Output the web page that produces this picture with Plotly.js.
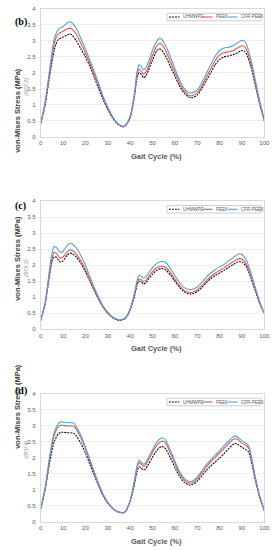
<!DOCTYPE html>
<html><head><meta charset="utf-8">
<script src="https://cdn.plot.ly/plotly-3.0.1.min.js"></script>
<style>html,body{margin:0;padding:0;background:#fff}#chart{width:277px;height:550px}</style>
</head><body><div id="chart"></div>
<script>
// ---- Data ----
const seriesNames = ["UHMWPE", "PEEK", "CFR-PEEK"];
const panelLabels = ["(b)", "(c)", "(d)"];
const roiLabels = ["(ROI 2)", "(ROI 3)", "(ROI 4)"];
const xTickVals = [0,10,20,30,40,50,60,70,80,90,100];
const yTickVals = [0,0.5,1,1.5,2,2.5,3,3.5,4];

// Panel (b) - ROI 2
const gaitB = [0,2,4,6,7,8,10,12,13,14,16,18,20,22,24,26,28,30,32,34,36,37,38,40,42,43,44,45,46,47,48,50,52,53,54,56,58,60,62,64,66,67,68,70,72,74,76,78,80,82,84,86,88,90,91,92,94,96,98,100];
const uhmwpeB = [0.42,1.0,1.9,2.7,2.93,3.05,3.12,3.19,3.22,3.18,3.0,2.75,2.5,2.2,1.85,1.5,1.15,0.85,0.6,0.42,0.32,0.31,0.35,0.6,1.3,1.8,2.0,1.95,1.85,1.9,2.05,2.4,2.7,2.75,2.72,2.5,2.2,1.9,1.6,1.38,1.25,1.22,1.23,1.3,1.5,1.75,2.0,2.25,2.42,2.5,2.53,2.57,2.63,2.7,2.68,2.6,2.2,1.6,1.0,0.5];
const peekB = [0.42,1.05,2.0,2.9,3.12,3.22,3.3,3.38,3.4,3.37,3.2,2.92,2.63,2.3,1.95,1.58,1.2,0.9,0.63,0.44,0.33,0.32,0.36,0.62,1.35,1.9,2.12,2.05,1.96,2.02,2.15,2.55,2.85,2.92,2.9,2.68,2.35,2.02,1.7,1.45,1.31,1.28,1.29,1.37,1.58,1.85,2.12,2.38,2.56,2.63,2.66,2.7,2.78,2.85,2.83,2.74,2.3,1.68,1.05,0.52];
const cfrPeekB = [0.42,1.1,2.1,3.05,3.25,3.37,3.45,3.57,3.6,3.57,3.38,3.07,2.75,2.4,2.03,1.65,1.25,0.93,0.65,0.45,0.34,0.33,0.37,0.64,1.4,2.0,2.25,2.2,2.1,2.15,2.3,2.7,3.0,3.08,3.06,2.83,2.5,2.13,1.8,1.53,1.39,1.37,1.38,1.46,1.68,1.97,2.25,2.52,2.7,2.78,2.8,2.85,2.94,3.02,3.0,2.9,2.43,1.77,1.1,0.55];

// Panel (c) - ROI 3
const gaitC = [0,2,4,5,6,7,8,9,10,12,13,14,16,18,20,22,24,26,28,30,32,34,35,36,38,40,42,43,44,45,46,47,48,50,52,54,56,58,60,62,64,66,67,68,70,72,74,76,78,80,82,84,86,88,89,90,92,94,96,98,100];
const uhmwpeC = [0.28,0.8,1.7,2.1,2.26,2.25,2.15,2.1,2.14,2.33,2.38,2.37,2.25,2.05,1.8,1.5,1.2,0.92,0.68,0.5,0.37,0.3,0.28,0.28,0.35,0.6,1.05,1.35,1.5,1.48,1.42,1.45,1.55,1.72,1.85,1.9,1.85,1.7,1.5,1.32,1.18,1.11,1.1,1.11,1.18,1.3,1.45,1.58,1.68,1.76,1.84,1.93,2.02,2.1,2.12,2.1,1.95,1.6,1.2,0.8,0.5];
const peekC = [0.28,0.82,1.78,2.2,2.4,2.38,2.27,2.22,2.26,2.43,2.48,2.47,2.35,2.13,1.87,1.55,1.24,0.95,0.7,0.52,0.38,0.31,0.29,0.29,0.36,0.62,1.1,1.42,1.57,1.55,1.49,1.52,1.62,1.8,1.93,1.97,1.93,1.77,1.56,1.37,1.22,1.16,1.15,1.16,1.23,1.36,1.51,1.65,1.75,1.84,1.92,2.02,2.11,2.19,2.21,2.19,2.03,1.67,1.25,0.82,0.5];
const cfrPeekC = [0.28,0.85,1.9,2.35,2.58,2.56,2.45,2.4,2.44,2.63,2.68,2.67,2.54,2.3,2.0,1.65,1.3,0.99,0.72,0.53,0.39,0.32,0.3,0.3,0.37,0.65,1.15,1.5,1.68,1.66,1.6,1.63,1.73,1.93,2.06,2.12,2.08,1.9,1.68,1.47,1.31,1.25,1.24,1.25,1.32,1.46,1.62,1.76,1.86,1.95,2.03,2.13,2.24,2.34,2.36,2.34,2.16,1.77,1.3,0.85,0.5];

// Panel (d) - ROI 4
const gaitD = [0,2,4,6,8,9,10,12,14,15,16,18,20,22,24,26,28,30,32,34,36,37,38,40,42,43,44,45,46,47,48,50,52,54,55,56,58,60,62,64,66,67,68,70,72,74,76,78,80,82,84,86,87,88,90,92,93,94,96,98,100];
const uhmwpeD = [0.4,1.0,1.85,2.5,2.76,2.8,2.8,2.79,2.78,2.76,2.68,2.45,2.15,1.8,1.45,1.1,0.8,0.58,0.42,0.32,0.28,0.28,0.33,0.62,1.2,1.55,1.72,1.68,1.62,1.66,1.78,2.02,2.24,2.35,2.34,2.27,2.0,1.7,1.43,1.25,1.16,1.15,1.17,1.27,1.43,1.6,1.74,1.87,1.99,2.13,2.28,2.42,2.45,2.43,2.33,2.25,2.18,1.95,1.3,0.75,0.35];
const peekD = [0.4,1.05,1.98,2.7,2.98,3.02,3.02,3.0,3.0,2.98,2.88,2.62,2.28,1.9,1.52,1.15,0.83,0.6,0.43,0.33,0.29,0.28,0.34,0.65,1.28,1.66,1.85,1.8,1.74,1.79,1.92,2.17,2.4,2.52,2.51,2.44,2.15,1.82,1.52,1.32,1.22,1.21,1.23,1.34,1.52,1.71,1.87,2.01,2.15,2.3,2.44,2.57,2.6,2.58,2.46,2.38,2.3,2.05,1.35,0.77,0.35];
const cfrPeekD = [0.4,1.07,2.03,2.78,3.08,3.13,3.12,3.1,3.1,3.08,2.97,2.7,2.34,1.95,1.56,1.18,0.85,0.61,0.44,0.33,0.29,0.28,0.34,0.66,1.32,1.72,1.92,1.86,1.8,1.85,1.98,2.25,2.5,2.62,2.61,2.54,2.24,1.9,1.58,1.37,1.27,1.26,1.28,1.4,1.58,1.78,1.94,2.08,2.22,2.38,2.52,2.65,2.68,2.66,2.53,2.45,2.38,2.12,1.4,0.8,0.35];

// ---- Build ----
const panels = [
  {x: gaitB, ys: [uhmwpeB, peekB, cfrPeekB]},
  {x: gaitC, ys: [uhmwpeC, peekC, cfrPeekC]},
  {x: gaitD, ys: [uhmwpeD, peekD, cfrPeekD]}
];
const styles = [
  {color: "#111111", width: 1.1, dash: "2px,1px"},
  {color: "#e05656", width: 1.1, dash: "solid"},
  {color: "#5b9bd5", width: 1.1, dash: "solid"}
];
const W = 277, H = 550;
const plotTop = [9, 201.3, 394];
const plotBot = [136.7, 329.3, 521.7];
const xLeft = 40.7, xRight = 264.3;
const fontFam = "Liberation Sans, Arial, sans-serif";
// legend key layout (pixels): [line start, line end, text start] per series
const legendBox = {left: 167, right: 261, h: 7.5, offset: 8};
const legendKeys = [[169, 179.5, 180.5], [203, 212.5, 213.5], [228, 237.5, 238.5]];

const px = v => v / W;
const py = v => 1 - v / H;

const traces = [];
const layout = {
  width: W, height: H, margin: {l: 0, r: 0, t: 0, b: 0},
  paper_bgcolor: "#fff", plot_bgcolor: "#fff",
  showlegend: false, annotations: [], shapes: [], font: {family: fontFam}
};
panels.forEach((p, i) => {
  const sfx = i === 0 ? "" : String(i + 1);
  p.ys.forEach((y, k) => {
    traces.push({
      x: p.x, y: y, type: "scatter", mode: "lines", name: seriesNames[k],
      xaxis: "x" + sfx, yaxis: "y" + sfx,
      line: {color: styles[k].color, width: styles[k].width, dash: styles[k].dash, shape: "spline", smoothing: 0.8},
      hoverinfo: "skip"
    });
  });
  layout["xaxis" + sfx] = {
    domain: [px(xLeft), px(xRight)], range: [0, 100], anchor: "y" + sfx,
    tickvals: xTickVals, showgrid: false, zeroline: false, ticks: "", ticklabelstandoff: 0,
    showline: true, linecolor: "#d9d9d9", linewidth: 1, mirror: true,
    tickfont: {size: 6, color: "#595959", family: fontFam}, fixedrange: true
  };
  layout["yaxis" + sfx] = {
    domain: [py(plotBot[i]), py(plotTop[i])], range: [0, 4], anchor: "x" + sfx,
    tickvals: yTickVals, showgrid: true, gridcolor: "#e9e9e9", gridwidth: 0.8,
    zeroline: false, ticks: "", ticklabelstandoff: 3, showline: true, linecolor: "#d9d9d9", linewidth: 1, mirror: true,
    tickfont: {size: 6, color: "#595959", family: fontFam}, fixedrange: true
  };
  // legend (drawn as key box)
  const ly = plotTop[i] + legendBox.offset;
  layout.shapes.push({type: "rect", xref: "paper", yref: "paper",
    x0: px(legendBox.left), x1: px(legendBox.right), y0: py(ly - legendBox.h / 2), y1: py(ly + legendBox.h / 2),
    line: {color: "#bfbfbf", width: 0.8}, fillcolor: "#fff", layer: "above"});
  legendKeys.forEach((k, s) => {
    layout.shapes.push({type: "line", xref: "paper", yref: "paper",
      x0: px(k[0]), x1: px(k[1]), y0: py(ly), y1: py(ly), layer: "above",
      line: {color: styles[s].color, width: 1.1, dash: styles[s].dash}});
    layout.annotations.push({text: seriesNames[s], xref: "paper", yref: "paper", x: px(k[2]), y: py(ly),
      xanchor: "left", yanchor: "middle", showarrow: false,
      font: {size: 4.5, color: "#595959", family: fontFam}});
  });
  const center = (plotTop[i] + plotBot[i]) / 2;
  layout.annotations.push(
    {text: "<b>" + panelLabels[i] + "</b>", xref: "paper", yref: "paper", x: px(13), y: py(plotTop[i] + 5),
     showarrow: false, font: {family: "Liberation Serif, Times New Roman, serif", size: 10, color: "#000"}},
    {text: "<b>von-Mises Stress (MPa)</b>", xref: "paper", yref: "paper", x: px(11), y: py(center - 7),
     textangle: -90, showarrow: false, font: {size: 7.5, color: "#404040", family: fontFam}},
    {text: "<i>" + roiLabels[i] + "</i>", xref: "paper", yref: "paper", x: px(21), y: py(center + 3),
     textangle: -90, showarrow: false, font: {size: 5.5, color: "#8c8c8c", family: fontFam}},
    {text: "<b>Gait Cycle (%)</b>", xref: "paper", yref: "paper", x: px(156), y: py(plotBot[i] + 19.5),
     yanchor: "middle", showarrow: false, font: {size: 7.5, color: "#595959", family: fontFam}}
  );
});
Plotly.newPlot("chart", traces, layout, {staticPlot: true, displayModeBar: false});
</script>
</body></html>
